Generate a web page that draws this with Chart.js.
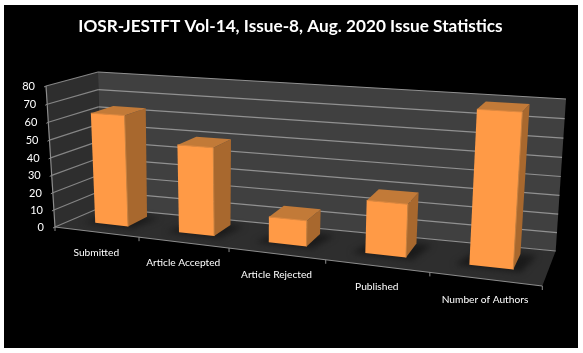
<!DOCTYPE html>
<html>
<head>
<meta charset="utf-8">
<style>
  html, body { margin: 0; padding: 0; background: #fff; }
  #wrap { width: 583px; height: 353px; }
</style>
<script src="https://cdn.jsdelivr.net/npm/chart.js@4"></script>
</head>
<body>
<div id="wrap"><canvas id="issueChart" width="583" height="353"></canvas></div>
<script>
const chartTitle = 'IOSR-JESTFT Vol-14, Issue-8, Aug. 2020 Issue Statistics';
const categories = ['Submitted', 'Article Accepted', 'Article Rejected', 'Published', 'Number of Authors'];
const issueValues = [63, 49, 14, 28, 78];

// corners of the 3D box as they sit on the picture: [u, v, d] -> pixel
const corners = {
  '000': [55, 227],   '100': [542.3, 286],
  '001': [100, 207.7], '101': [555.7, 251],
  '010': [46, 86],    '110': [553, 116],
  '011': [98, 72],    '111': [566, 99]
};
const depthFront = 0.36, depthBack = 0.82; // where the bars stand between front and back of the floor

function lerp(a, b, t) { return [a[0] + (b[0] - a[0]) * t, a[1] + (b[1] - a[1]) * t]; }

// foreshorten along the axes, then blend the eight corners
function project(u, v, d) {
  const fu = u / (u + 1.2 * (1 - u));
  const fv = v / (v + 1.04 * (1 - v));
  const front = lerp(lerp(corners['000'], corners['100'], fu), lerp(corners['010'], corners['110'], fu), fv);
  const back = lerp(lerp(corners['001'], corners['101'], fu), lerp(corners['011'], corners['111'], fu), fv);
  return lerp(front, back, d);
}

function poly(ctx, pts, fill) {
  ctx.beginPath();
  pts.forEach((p, i) => i ? ctx.lineTo(p[0], p[1]) : ctx.moveTo(p[0], p[1]));
  ctx.closePath();
  ctx.fillStyle = fill;
  ctx.fill();
}

function line(ctx, a, b, color, width) {
  ctx.beginPath();
  ctx.moveTo(a[0], a[1]);
  ctx.lineTo(b[0], b[1]);
  ctx.strokeStyle = color;
  ctx.lineWidth = width || 1;
  ctx.stroke();
}

const box3d = {
  id: 'box3d',
  beforeDraw(chart) {
    const ctx = chart.ctx;
    ctx.save();
    ctx.fillStyle = '#000';
    ctx.fillRect(4, 5, 574, 343);
    ctx.restore();
  },
  beforeDatasetsDraw(chart) {
    const ctx = chart.ctx, area = chart.chartArea;
    const yScale = chart.scales.y, xScale = chart.scales.x;
    const toU = px => (px - area.left) / area.width;
    const toV = py => (area.bottom - py) / area.height;
    ctx.save();

    // walls and floor
    poly(ctx, [project(0,0,0), project(0,0,1), project(0,1,1), project(0,1,0)], '#2e2e2e');
    poly(ctx, [project(0,0,1), project(1,0,1), project(1,1,1), project(0,1,1)], '#404040');
    poly(ctx, [project(0,0,0), project(1,0,0), project(1,0,1), project(0,0,1)], '#2e2e2e');

    // gridlines on both walls
    yScale.ticks.forEach(t => {
      const v = toV(yScale.getPixelForValue(t.value));
      line(ctx, project(0,v,0), project(0,v,1), '#858585', 1.2);
      line(ctx, project(0,v,1), project(1,v,1), '#919191', 1.2);
    });

    // soft shadow round each bar foot
    const meta = chart.getDatasetMeta(0);
    ctx.save();
    ctx.filter = 'blur(3px)';
    meta.data.forEach(bar => {
      const u0 = toU(bar.x - bar.width / 2), u1 = toU(bar.x + bar.width / 2);
      poly(ctx, [project(u0 - 0.025,0,depthFront - 0.05), project(u1 + 0.015,0,depthFront - 0.05),
                 project(u1 + 0.03,0,depthBack), project(u0,0,depthBack)], '#1a1a1a');
    });
    ctx.restore();

    // bars
    meta.data.forEach(bar => {
      const u0 = toU(bar.x - bar.width / 2), u1 = toU(bar.x + bar.width / 2);
      const v = toV(bar.y);
      const fl = project(u0,0,depthFront), fr = project(u1,0,depthFront);
      const tl = project(u0,v,depthFront), tr = project(u1,v,depthFront);
      const br = project(u1,0,depthBack), trb = project(u1,v,depthBack), tlb = project(u0,v,depthBack);
      poly(ctx, [fr, br, trb, tr], '#a8682e');
      poly(ctx, [tl, tr, trb, tlb], '#c27a38');
      poly(ctx, [fl, fr, tr, tl], '#ff9a46');
      line(ctx, fr, tr, '#c98240');
      line(ctx, tl, tr, '#e08a40');
    });

    // axis lines, tick marks and labels
    line(ctx, project(0,0,0), project(1,0,0), '#8c8c8c', 1.2);
    line(ctx, project(0,0,0), project(0,1,0), '#8c8c8c', 1.2);
    ctx.fillStyle = '#fff';
    ctx.font = '10.2px Lato';
    ctx.textAlign = 'right';
    ctx.textBaseline = 'middle';
    yScale.ticks.forEach(t => {
      const v = toV(yScale.getPixelForValue(t.value));
      const p = project(0,v,0);
      line(ctx, p, [p[0] - 2, p[1] + 1], '#8c8c8c');
      ctx.fillStyle = '#fff';
      ctx.font = '11px Lato';
      ctx.fillText(t.value, p[0] - 11, p[1] + 0.5);
    });
    const halfStep = 0.5 / categories.length;
    ctx.textAlign = 'center';
    ctx.font = '10.2px Lato';
    categories.forEach((name, i) => {
      const uMid = toU(xScale.getPixelForValue(i));
      const edge = project(uMid + halfStep, 0, 0);
      line(ctx, edge, [edge[0], edge[1] + 4], '#8c8c8c');
      const p = project(uMid, 0, 0);
      ctx.fillStyle = '#fff';
      ctx.fillText(name, p[0], p[1] + 20.5);
    });
    const start = project(0,0,0);
    line(ctx, start, [start[0], start[1] + 4], '#8c8c8c');

    ctx.restore();
    return false; // bars are already drawn in 3D above
  }
};

new Chart(document.getElementById('issueChart'), {
  type: 'bar',
  data: {
    labels: categories,
    datasets: [{ data: issueValues, backgroundColor: '#ff9a46', barPercentage: 0.4, categoryPercentage: 1 }]
  },
  options: {
    responsive: false,
    animation: false,
    layout: { padding: { left: 20, right: 22, top: 10, bottom: 20 } },
    plugins: {
      legend: { display: false },
      tooltip: { enabled: false },
      title: {
        display: true,
        text: chartTitle,
        color: '#fff',
        fullSize: false,
        font: { family: 'Lato', size: 17.2, weight: 'bold' },
        padding: { top: 6, bottom: 10 }
      }
    },
    scales: {
      x: { display: false },
      y: { display: false, min: 0, max: 80, ticks: { stepSize: 10 } }
    }
  },
  plugins: [box3d]
});
</script>
</body>
</html>
